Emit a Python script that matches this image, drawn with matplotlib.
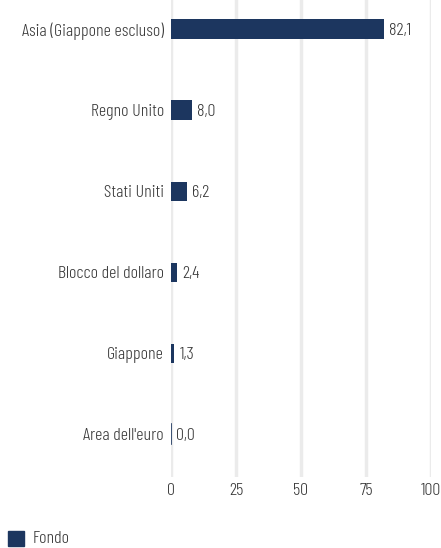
import matplotlib
matplotlib.use("Agg")
import matplotlib.pyplot as plt
from matplotlib.patches import Rectangle

categories = ["Asia (Giappone escluso)", "Regno Unito", "Stati Uniti",
              "Blocco del dollaro", "Giappone", "Area dell'euro"]
values = [82.1, 8.0, 6.2, 2.4, 1.3, 0.0]
xticks = [0, 25, 50, 75, 100]
series_name = "Fondo"

FAM = ['Barlow Condensed', 'DejaVu Sans']
FW = 300
FS = 13
TXT = '#383838'
BAR = '#1c365f'

W, H = 441, 548
fig = plt.figure(figsize=(W/100, H/100), dpi=100)
ax = fig.add_axes([171/W, (H-477)/H, 260/W, 477/H])

pos = list(range(len(categories)))
ax.barh(pos, values, height=0.235, color=BAR, zorder=3)
for p, v in zip(pos, values):
    ax.text(v + 1.9, p, f"{v:.1f}".replace('.', ','), va='center_baseline', ha='left',
            fontsize=FS, color=TXT, family=FAM, weight=FW)
    if v == 0:
        ax.plot([0, 0], [p - 0.12, p + 0.12], color=BAR, lw=1.2, zorder=4)

ax.set_xlim(0, 100)
ax.set_ylim(5.53, -0.358)
ax.set_xticks(xticks)
ax.set_xticklabels([str(t) for t in xticks], family=FAM, fontsize=FS, color=TXT, weight=FW)
ax.set_yticks(pos)
ax.set_yticklabels(categories, family=FAM, fontsize=FS, color=TXT, weight=FW)
ax.tick_params(length=0, pad=5)
ax.tick_params(axis='x', pad=4)
ax.grid(axis='x', color='#ebebeb', lw=2.5, zorder=0)
for s in ax.spines.values():
    s.set_visible(False)

fig.patches.append(Rectangle((8/W, (H-546)/H), 16/W, 15/H, transform=fig.transFigure,
                             color=BAR))
fig.text(33/W, (H-537)/H, series_name, va='center_baseline', ha='left', fontsize=FS,
         color=TXT, family=FAM, weight=FW)

fig.savefig("out.png", dpi=100)
